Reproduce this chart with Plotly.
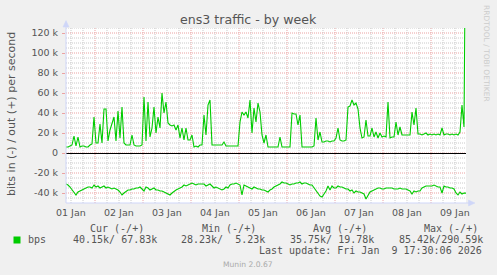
import plotly.graph_objects as go
import pandas as pd

# ---------------- data (values in k bits/s, hourly from Jan 1 09:30) ----------------
start_time = "2026-01-01 09:30"
out_k = [
    6, 6, 7, 8, 17, 7, 16, 6, 7, 7,
    6, 6, 8, 9, 36, 10, 10, 29, 10, 44,
    44, 12, 23, 30, 36, 12, 42, 15, 46, 10,
    8, 8, 8, 18, 8, 7, 7, 7, 8, 56,
    12, 51, 16, 25, 46, 20, 36, 25, 60, 40,
    51, 30, 28, 27, 28, 23, 28, 15, 25, 13,
    25, 13, 13, 18, 6, 7, 6, 8, 8, 38,
    18, 48, 53, 8, 8, 8, 8, 8, 8, 11,
    7, 7, 7, 7, 7, 7, 7, 31, 41, 38,
    41, 35, 53, 20, 45, 31, 50, 41, 18, 10,
    18, 6, 6, 6, 6, 6, 6, 16, 6, 6,
    6, 6, 6, 40, 39, 39, 28, 38, 6, 6,
    6, 6, 6, 6, 7, 35, 13, 21, 11, 11,
    12, 12, 11, 12, 12, 15, 25, 13, 12, 12,
    13, 46, 47, 53, 48, 50, 44, 25, 15, 16,
    33, 17, 17, 25, 16, 21, 15, 20, 16, 17,
    16, 51, 15, 16, 16, 31, 18, 26, 18, 18,
    18, 18, 18, 41, 28, 45, 19, 19, 18, 19,
    20, 18, 19, 18, 19, 18, 19, 18, 25, 18,
    19, 19, 18, 19, 18, 19, 18, 21, 48, 26,
    290.59,
]
in_k = [
    31, 32, 34, 37, 40, 42, 39, 38, 37, 36,
    35, 34, 34, 35, 32, 34, 33, 35, 34, 33,
    35, 34, 35, 36, 35, 36, 37, 39, 42, 40,
    38, 37, 37, 36, 36, 35, 35, 34, 36, 38,
    34, 35, 37, 36, 35, 37, 37, 38, 38, 39,
    40, 41, 42, 40, 38, 37, 36, 35, 34, 32,
    33, 32, 31, 30, 31, 32, 31, 31, 31, 31,
    33, 32, 31, 33, 35, 34, 35, 36, 37, 36,
    34, 35, 32, 31, 31, 30, 31, 32, 42, 32,
    33, 34, 35, 36, 34, 35, 36, 36, 37, 37,
    38, 39, 37, 36, 34, 33, 32, 31, 29, 30,
    30, 31, 32, 31, 31, 30, 30, 29, 31, 30,
    30, 31, 32, 32, 35, 38, 40, 43, 44, 41,
    38, 33, 37, 33, 35, 35, 33, 34, 34, 35,
    36, 36, 38, 37, 40, 38, 39, 39, 40, 41,
    46, 42, 39, 38, 37, 36, 35, 35, 36, 36,
    35, 35, 35, 35, 36, 36, 36, 35, 36, 36,
    36, 37, 38, 41, 38, 39, 38, 38, 35, 34,
    33, 33, 33, 33, 32, 33, 34, 34, 40, 33,
    34, 34, 35, 35, 36, 40, 42, 39, 41, 40,
    40.15,
]
day_labels = ["01 Jan", "02 Jan", "03 Jan", "04 Jan", "05 Jan",
              "06 Jan", "07 Jan", "08 Jan", "09 Jan"]
day_dates = ["2026-01-01", "2026-01-02", "2026-01-03", "2026-01-04", "2026-01-05",
             "2026-01-06", "2026-01-07", "2026-01-08", "2026-01-09"]
y_tickvals = [-40, -20, 0, 20, 40, 60, 80, 100, 120]
y_ticktext = ["-40 k", "-20 k", "0", "20 k", "40 k", "60 k", "80 k", "100 k", "120 k"]
y_minor_step = 5
x_minor_hours = 6
legend_name = "bps"
legend_headers = ["Cur (-/+)", "Min (-/+)", "Avg (-/+)", "Max (-/+)"]
legend_values = ["40.15k/ 67.83k", "28.23k/  5.23k", "35.75k/ 19.78k", "85.42k/290.59k"]
last_update = "Last update: Fri Jan  9 17:30:06 2026"
title_text = "ens3 traffic - by week"
y_title = "bits in (-) / out (+) per second"

# ---------------- styling ----------------
W, H = 497, 275
L, R, T, B = 66, 466, 28, 203
Y_RANGE = [-50, 125]
GREEN = "#00CC00"
FONT_C = "#555555"
AXIS_C = "#CFD6F8"
GRID_C = "#CACACA"
MGRID_C = "#EBA2A2"
DASH = "1px,1px"
SANS = "DejaVu Sans"
MONO = "DejaVu Sans Mono"

def px(x):
    return (x - L) / (R - L)

def py(y):
    return (B - y) / (B - T)

times = pd.date_range(start_time, periods=len(out_k), freq="h")
noon = [pd.Timestamp(d) + pd.Timedelta(hours=12) for d in day_dates]
neg_in = [-v for v in in_k]
xrange = [times[0], times[-1]]

fig = go.Figure()
fig.add_trace(go.Scatter(x=times, y=neg_in, mode="lines",
                         line=dict(color=GREEN, width=1.1), hoverinfo="skip",
                         showlegend=False))
fig.add_trace(go.Scatter(x=times, y=out_k, mode="lines",
                         line=dict(color=GREEN, width=1.1), hoverinfo="skip",
                         showlegend=False))

fig.update_layout(
    width=W, height=H, autosize=False,
    margin=dict(l=L, r=W - R, t=T, b=H - B, pad=0),
    paper_bgcolor="#F0F0F0", plot_bgcolor="#FFFFFF",
    showlegend=False,
    xaxis=dict(range=xrange, showticklabels=False, ticks="", showline=False,
               zeroline=False, showgrid=False),
    yaxis=dict(
        range=Y_RANGE, tickmode="array", tickvals=y_tickvals, ticktext=y_ticktext,
        showgrid=False,
        zeroline=True, zerolinecolor="#000000", zerolinewidth=1,
        showline=False, ticks="outside", ticklen=3, tickcolor=MGRID_C,
        tickfont=dict(family=SANS, size=9.5, color=FONT_C),
        ticklabelstandoff=2,
    ),
)

shapes = []
# ---- grid (dotted, rrdtool style) ----
grid_times = pd.date_range(day_dates[0], pd.Timestamp(day_dates[-1]) + pd.Timedelta(days=1),
                           freq=f"{x_minor_hours}h")
for t in grid_times:
    if t < times[0] or t > times[-1]:
        continue
    major = (t.hour == 0)
    shapes.append(dict(type="line", xref="x", yref="paper", x0=t, x1=t, y0=0, y1=1,
                       layer="below",
                       line=dict(color=MGRID_C if major else GRID_C, width=1, dash=DASH)))
yv = Y_RANGE[0] + y_minor_step
while yv <= Y_RANGE[1]:
    major = (yv in y_tickvals)
    shapes.append(dict(type="line", xref="paper", yref="y", x0=0, x1=1, y0=yv, y1=yv,
                       layer="below",
                       line=dict(color=MGRID_C if major else GRID_C, width=1, dash=DASH)))
    yv += y_minor_step

# axis lines with arrows
shapes.append(dict(type="line", xref="paper", yref="paper",
                   x0=px(66), x1=px(66), y0=py(203), y1=py(23),
                   line=dict(color=AXIS_C, width=1)))
shapes.append(dict(type="path", xref="paper", yref="paper",
                   path=f"M {px(63)} {py(27)} L {px(69)} {py(27)} L {px(66)} {py(20.5)} Z",
                   fillcolor=AXIS_C, line=dict(color=AXIS_C, width=0.5)))
shapes.append(dict(type="line", xref="paper", yref="paper",
                   x0=px(66), x1=px(471), y0=py(203), y1=py(203),
                   line=dict(color=AXIS_C, width=1)))
shapes.append(dict(type="path", xref="paper", yref="paper",
                   path=f"M {px(468.5)} {py(200)} L {px(468.5)} {py(206)} L {px(475)} {py(203)} Z",
                   fillcolor=AXIS_C, line=dict(color=AXIS_C, width=0.5)))
# legend colour box
shapes.append(dict(type="rect", xref="paper", yref="paper",
                   x0=px(13.5), x1=px(20.5), y0=py(243.5), y1=py(236.5),
                   fillcolor=GREEN, line=dict(width=0)))
fig.update_layout(shapes=shapes)

ann = []
def text(x, y, s, size, family=SANS, color=FONT_C, xanchor="center", angle=0):
    ann.append(dict(x=px(x), y=py(y), xref="paper", yref="paper", text=s,
                    showarrow=False, xanchor=xanchor, yanchor="middle",
                    textangle=angle, borderpad=0,
                    font=dict(family=family, size=size, color=color)))

# day labels centred at noon (data x, paper y)
for t, lab in zip(noon, day_labels):
    ann.append(dict(x=t, y=py(212.5), xref="x", yref="paper", text=lab,
                    showarrow=False, xanchor="center", yanchor="middle",
                    borderpad=0, font=dict(family=SANS, size=9.5, color=FONT_C)))

text(248, 19.5, title_text, 12.6)
text(11, 114, y_title, 11, angle=-90)
text(27, 239.5, legend_name, 10, family=MONO, xanchor="left")
header_left = [89, 201, 312, 423]
value_left = [72, 180, 289, 398]
for hx, hs in zip(header_left, legend_headers):
    text(hx, 228, hs, 10, family=MONO, xanchor="left")
for vx, vs in zip(value_left, legend_values):
    text(vx, 239.5, vs, 10, family=MONO, xanchor="left")
text(483, 250.5, last_update, 10, family=MONO, xanchor="right")
text(248, 264, "Munin 2.0.67", 7.6, color="#AAAAAA")
text(487, 53, "RRDTOOL / TOBI OETIKER", 7.5, color="#CCCCCC", angle=90)
fig.update_layout(annotations=ann)

fig.write_html("out.html")
